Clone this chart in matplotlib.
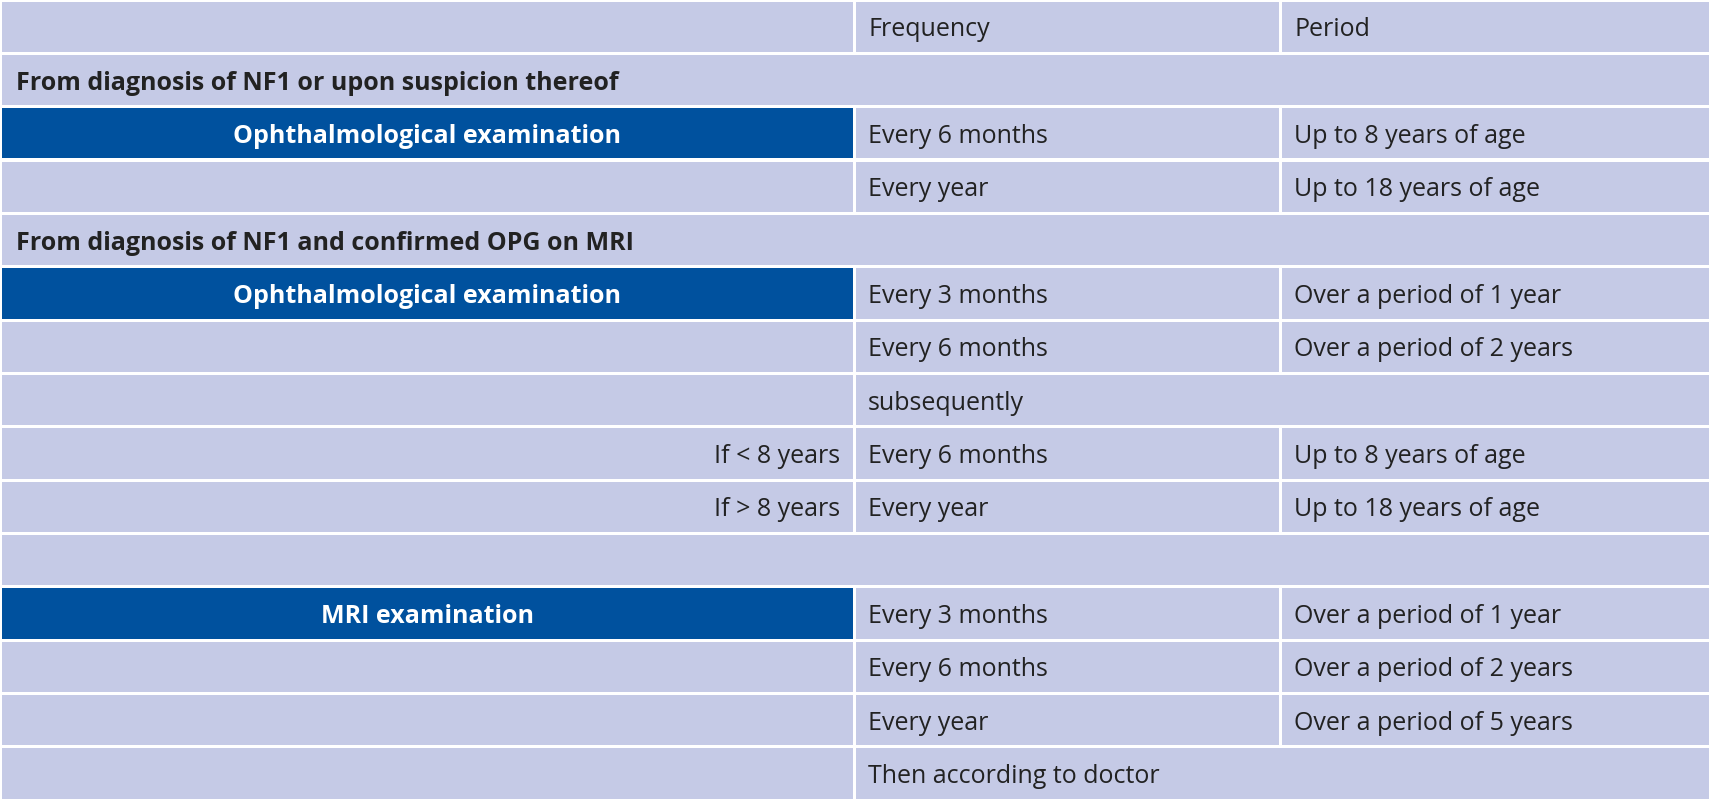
import matplotlib.pyplot as plt
from matplotlib.patches import Rectangle

# table content, one entry per row
row_kind = ["head", "section", "blue", "plain", "section", "blue", "plain", "span2",
            "plain", "plain", "empty", "blue", "plain", "plain", "span2"]
col_label = ["", "From diagnosis of NF1 or upon suspicion thereof", "Ophthalmological examination", "",
             "From diagnosis of NF1 and confirmed OPG on MRI", "Ophthalmological examination", "", "",
             "If < 8 years", "If > 8 years", "", "MRI examination", "", "", ""]
frequency = ["Frequency", "", "Every 6 months", "Every year", "", "Every 3 months", "Every 6 months",
             "subsequently", "Every 6 months", "Every year", "", "Every 3 months", "Every 6 months",
             "Every year", "Then according to doctor"]
period = ["Period", "", "Up to 8 years of age", "Up to 18 years of age", "", "Over a period of 1 year",
          "Over a period of 2 years", "", "Up to 8 years of age", "Up to 18 years of age", "",
          "Over a period of 1 year", "Over a period of 2 years", "Over a period of 5 years", ""]

W, H = 1710, 800
cols = [0, 854, 1280, 1710]
n = len(row_kind)
rh = H / n
bg = "#C5CAE6"
dark = "#00519E"
fs = 18

fig = plt.figure(figsize=(17.1, 8.0), dpi=100)
ax = fig.add_axes([0, 0, 1, 1])
ax.set_xlim(0, W)
ax.set_ylim(H, 0)
ax.axis("off")
plt.rcParams['font.family'] = ['Open Sans', 'DejaVu Sans']

gap = 1.5
for i, kind in enumerate(row_kind):
    y0 = i * rh
    yc = y0 + rh / 2 + 3
    if kind in ("section", "empty"):
        spans = [(0, W)]
    elif kind == "span2":
        spans = [(0, cols[1]), (cols[1], W)]
    else:
        spans = [(cols[0], cols[1]), (cols[1], cols[2]), (cols[2], cols[3])]
    for j, (a, b) in enumerate(spans):
        c = dark if (kind == "blue" and j == 0) else bg
        ax.add_patch(Rectangle((a + gap, y0 + gap), b - a - 2 * gap, rh - 2 * gap, color=c, lw=0))
    if kind == "section":
        ax.text(16, yc, col_label[i], va="center", ha="left", fontsize=fs, weight="bold", color="#222222")
    elif kind == "blue":
        ax.text(cols[1] / 2, yc, col_label[i], va="center", ha="center", fontsize=fs, weight="bold", color="white")
    elif col_label[i]:
        ax.text(cols[1] - 14, yc, col_label[i], va="center", ha="right", fontsize=fs, color="#222222")
    if frequency[i]:
        ax.text(cols[1] + 14, yc, frequency[i], va="center", ha="left", fontsize=fs, color="#222222")
    if period[i]:
        ax.text(cols[2] + 14, yc, period[i], va="center", ha="left", fontsize=fs, color="#222222")

fig.savefig("out.png", dpi=100, facecolor="white")
